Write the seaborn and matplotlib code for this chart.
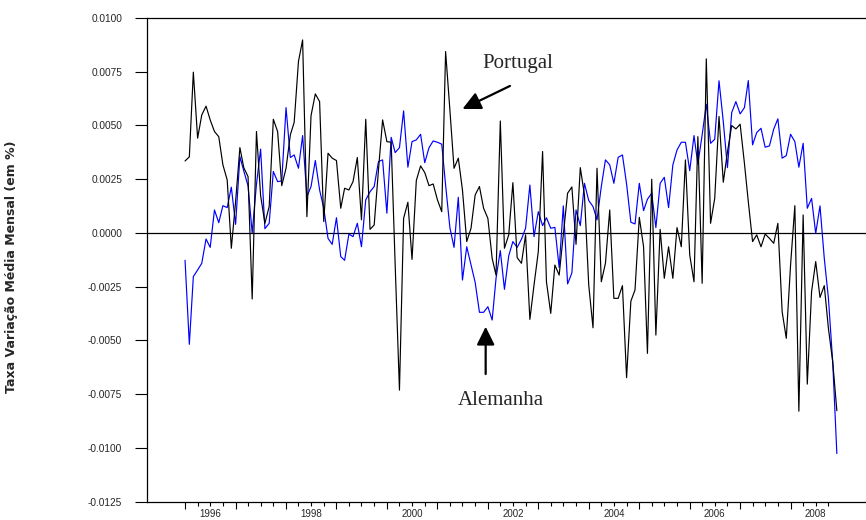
import numpy as np
import pandas as pd
import matplotlib
matplotlib.use("Agg")
import matplotlib.pyplot as plt
import matplotlib.dates as mdates
import seaborn as sns

# Taxa de variação média mensal, Jan 1996 - Dez 2008
portugal = [
    0.00335, 0.00354, 0.00748, 0.00441, 0.00549, 0.00590, 0.00526, 0.00472, 0.00448, 0.00317,
    0.00247, -0.00071, 0.00146, 0.00397, 0.00304, 0.00262, -0.00307, 0.00472, 0.00174, 0.00045,
    0.00123, 0.00529, 0.00472, 0.00220, 0.00301, 0.00456, 0.00515, 0.00798, 0.00898, 0.00076,
    0.00546, 0.00647, 0.00611, 0.00053, 0.00371, 0.00348, 0.00337, 0.00115, 0.00208, 0.00200,
    0.00239, 0.00351, 0.00061, 0.00529, 0.00017, 0.00037, 0.00293, 0.00526, 0.00425, 0.00422,
    -0.00149, -0.00731, 0.00068, 0.00143, -0.00123, 0.00244, 0.00312, 0.00281, 0.00220, 0.00228,
    0.00154, 0.00099, 0.00844, 0.00573, 0.00301, 0.00348, 0.00200, -0.00040, 0.00022, 0.00177,
    0.00216, 0.00115, 0.00068, -0.00118, -0.00196, 0.00521, -0.00071, -0.00009, 0.00234, -0.00115,
    -0.00141, -0.00009, -0.00402, -0.00242, -0.00087, 0.00379, -0.00227, -0.00374, -0.00149, -0.00196,
    -0.00009, 0.00185, 0.00214, -0.00053, 0.00304, 0.00177, -0.00242, -0.00441, 0.00301, -0.00227,
    -0.00141, 0.00107, -0.00304, -0.00304, -0.00245, -0.00673, -0.00317, -0.00265, 0.00073, -0.00064,
    -0.00560, 0.00250, -0.00475, 0.00017, -0.00211, -0.00064, -0.00211, 0.00025, -0.00064, 0.00340,
    -0.00102, -0.00227, 0.00448, -0.00234, 0.00810, 0.00045, 0.00161, 0.00542, 0.00236, 0.00376,
    0.00500, 0.00484, 0.00506, 0.00324, 0.00146, -0.00040, -0.00009, -0.00064, -0.00005, -0.00025,
    -0.00048, 0.00045, -0.00366, -0.00490, -0.00149, 0.00127, -0.00829, 0.00084, -0.00703, -0.00273,
    -0.00133, -0.00300, -0.00245, -0.00444, -0.00599, -0.00827,
]

alemanha = [
    -0.00127, -0.00518, -0.00203, -0.00172, -0.00141, -0.00028, -0.00067, 0.00107, 0.00048, 0.00127,
    0.00118, 0.00213, 0.00040, 0.00355, 0.00289, 0.00219, 0.00000, 0.00227, 0.00390, 0.00020,
    0.00045, 0.00286, 0.00239, 0.00242, 0.00583, 0.00351, 0.00363, 0.00301, 0.00453, 0.00169,
    0.00216, 0.00337, 0.00200, 0.00115, -0.00025, -0.00053, 0.00071, -0.00110, -0.00127, -0.00005,
    -0.00017, 0.00045, -0.00064, 0.00154, 0.00192, 0.00216, 0.00332, 0.00340, 0.00092, 0.00445,
    0.00374, 0.00397, 0.00568, 0.00306, 0.00425, 0.00433, 0.00459, 0.00327, 0.00397, 0.00428,
    0.00422, 0.00413, 0.00223, 0.00025, -0.00067, 0.00166, -0.00219, -0.00064, -0.00149, -0.00230,
    -0.00369, -0.00369, -0.00343, -0.00405, -0.00211, -0.00082, -0.00262, -0.00106, -0.00040, -0.00067,
    -0.00029, 0.00022, 0.00223, -0.00017, 0.00099, 0.00034, 0.00071, 0.00022, 0.00026, -0.00161,
    0.00126, -0.00237, -0.00186, 0.00107, 0.00034, 0.00231, 0.00151, 0.00123, 0.00061, 0.00216,
    0.00340, 0.00317, 0.00231, 0.00352, 0.00363, 0.00228, 0.00050, 0.00042, 0.00231, 0.00104,
    0.00157, 0.00185, 0.00025, 0.00231, 0.00259, 0.00118, 0.00317, 0.00386, 0.00422, 0.00422,
    0.00290, 0.00453, 0.00320, 0.00456, 0.00599, 0.00417, 0.00436, 0.00708, 0.00518, 0.00304,
    0.00560, 0.00611, 0.00554, 0.00583, 0.00709, 0.00410, 0.00467, 0.00487, 0.00399, 0.00405,
    0.00483, 0.00531, 0.00348, 0.00360, 0.00459, 0.00425, 0.00306, 0.00417, 0.00115, 0.00161,
    -0.00002, 0.00126, -0.00118, -0.00304, -0.00599, -0.01026,
]

inicio = "1996-01-01"
anos_eixo = list(range(1996, 2009))
anos_rotulo = [1996, 1998, 2000, 2002, 2004, 2006, 2008]
y_ticks = [-0.0125, -0.0100, -0.0075, -0.0050, -0.0025, 0.0000, 0.0025, 0.0050, 0.0075, 0.0100]
y_rotulos = ["-0.0125", "-0.0100", "-0.0075", "-0.0050", "-0.0025",
             "0.0000", "0.0025", "0.0050", "0.0075", "0.0100"]

datas = pd.date_range(inicio, periods=len(portugal), freq="MS")
n = len(datas)
df = pd.DataFrame({
    "data": list(datas) * 2,
    "serie": ["Alemanha"] * n + ["Portugal"] * n,
    "valor": alemanha + portugal,
})

sns.set_style("white")
plt.rcParams["font.family"] = ["Liberation Sans", "DejaVu Sans"]
plt.rcParams["axes.unicode_minus"] = False

W, H = 866, 520
fig = plt.figure(figsize=(W / 100, H / 100), dpi=100)
left, right, top, bottom = 146.5, 866, 18, 501.7
ax = fig.add_axes([left / W, 1 - bottom / H, (right - left) / W, (bottom - top) / H])

ax.axhline(0, color="black", lw=0.9, zorder=1.5)
sns.lineplot(data=df, x="data", y="valor", hue="serie",
             palette={"Alemanha": "#0000ff", "Portugal": "black"},
             hue_order=["Alemanha", "Portugal"],
             linewidth=0.85, legend=False, estimator=None, ax=ax, zorder=2)

# eixo x
ax.set_xlim(mdates.date2num(pd.Timestamp("1995-03-28")),
            mdates.date2num(pd.Timestamp("2009-06-30")))
maj = [mdates.date2num(pd.Timestamp(f"{a}-01-01")) for a in anos_eixo]
mino = [mdates.date2num(pd.Timestamp(f"{a}-{m:02d}-01")) for a in anos_eixo for m in (4, 7, 10)]
ax.set_xticks(maj)
ax.set_xticks(mino, minor=True)
ax.set_xticklabels([])
ax.tick_params(axis="x", which="major", direction="out", length=5, width=0.8, color="black", bottom=True)
ax.tick_params(axis="x", which="minor", direction="out", length=3, width=0.8, color="black", bottom=True)
for a in anos_rotulo:
    ax.text(mdates.date2num(pd.Timestamp(f"{a}-07-01")), -0.026, str(a),
            transform=ax.get_xaxis_transform(), ha="center", va="center", fontsize=7)

# eixo y
ax.set_ylim(-0.0125, 0.0100)
ax.set_yticks(y_ticks)
ax.set_yticklabels(y_rotulos)
ax.tick_params(axis="y", which="major", direction="out", length=9, width=0.8,
               color="black", pad=8.5, labelsize=7.3, left=True)
ax.set_xlabel("")
ax.set_ylabel("Taxa Variação Média Mensal (em %)", fontsize=9, fontweight="bold",
              family=["DejaVu Sans"])
ax.yaxis.set_label_coords((18 - left) / (right - left), 0.485)

for s in ("left", "bottom", "top"):
    ax.spines[s].set_color("black")
    ax.spines[s].set_linewidth(0.9)
ax.spines["right"].set_visible(False)

# anotações
seta = dict(arrowstyle="-|>,head_length=0.55,head_width=0.27", lw=1.6, color="black",
            mutation_scale=20, shrinkA=0, shrinkB=0)
ax.annotate("", xy=(mdates.date2num(pd.Timestamp("2001-07-01")), 0.00577),
            xytext=(mdates.date2num(pd.Timestamp("2002-06-10")), 0.00684), arrowprops=seta)
ax.text(mdates.date2num(pd.Timestamp("2002-08-08")), 0.00766, "Portugal",
        ha="center", va="baseline", fontsize=15, family=["Liberation Serif"])
ax.annotate("", xy=(mdates.date2num(pd.Timestamp("2001-12-16")), -0.00436),
            xytext=(mdates.date2num(pd.Timestamp("2001-12-16")), -0.00656), arrowprops=seta)
ax.text(mdates.date2num(pd.Timestamp("2002-04-08")), -0.00800, "Alemanha",
        ha="center", va="baseline", fontsize=15, family=["Liberation Serif"])

fig.savefig("out.png", dpi=100, facecolor="white")
